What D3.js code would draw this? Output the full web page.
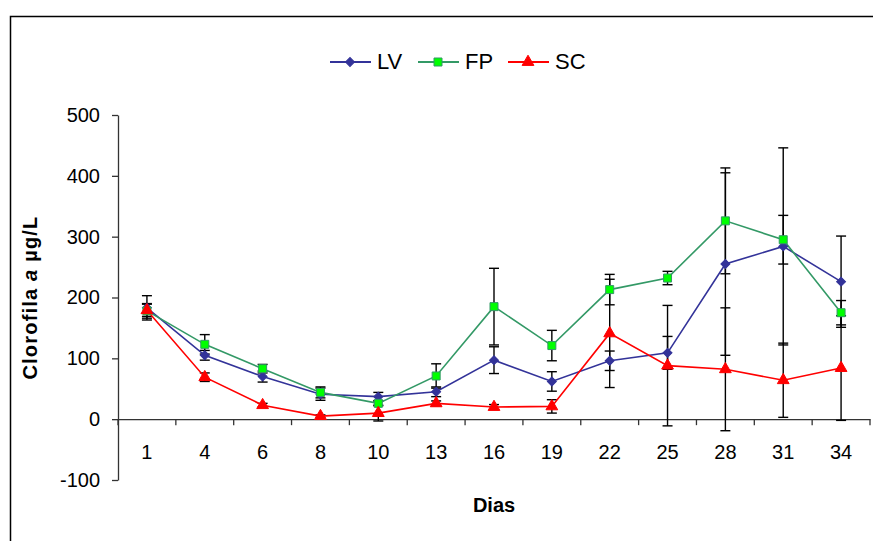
<!DOCTYPE html>
<html>
<head>
<meta charset="utf-8">
<script src="https://cdn.jsdelivr.net/npm/d3@7"></script>
<style>
  body { margin: 0; background: #fff; }
  text { font-family: Arial, "Liberation Sans", sans-serif; }
</style>
</head>
<body>
<script>
// days on the x axis
const days = ["1", "4", "6", "8", "10", "13", "16", "19", "22", "25", "28", "31", "34"];
const yTicks = [-100, 0, 100, 200, 300, 400, 500];

// means
const lv = [183, 105, 70, 41, 37, 45, 97, 62, 96, 109, 255, 284, 226];
const fp = [178, 123, 83, 44, 26, 71, 185, 121, 213, 232, 326, 295, 175];
const sc = [179, 69, 23, 5, 10, 26, 20, 21, 141, 88, 82, 64, 84];

// +/- error (std dev)
const lvErr = [20, 8, 9, 10, 7, 8, 22, 16, 16, 27, 150, 162, 75];
const fpErr = [12, 16, 7, 9, 4, 20, 63, 25, 25, 11, 87, 40, 20];
const scErr = [10, 7, 3, 2, 13, 4, 4, 11, 89, 99, 101, 61, 86];

const W = 873, H = 541;

const series = [
  { name: "LV", values: lv, err: lvErr, line: "#333399", fill: "#333399", stroke: "#333399", shape: d3.symbolSquare, size: 40, rot: 45 },
  { name: "FP", values: fp, err: fpErr, line: "#339966", fill: "#00ff00", stroke: "#339966", shape: d3.symbolSquare, size: 64, rot: 0 },
  { name: "SC", values: sc, err: scErr, line: "#ff0000", fill: "#ff0000", stroke: "#ff0000", shape: d3.symbolTriangle, size: 60, rot: 0 }
];

const svg = d3.select("body").append("svg")
  .attr("width", W)
  .attr("height", H);

// outer frame
svg.append("rect")
  .attr("x", 10.5).attr("y", 16.5)
  .attr("width", 900).attr("height", 600)
  .attr("fill", "none")
  .attr("stroke", "#000")
  .attr("stroke-width", 1.5);

const x = d3.scaleBand().domain(days).range([118, 870]);
const y = d3.scaleLinear().domain([-100, 500]).range([480, 115]);
const cx = d => x(d) + x.bandwidth() / 2;

// y axis
const yAxis = svg.append("g")
  .attr("transform", "translate(118,0)")
  .call(d3.axisLeft(y).tickValues(yTicks).tickFormat(d => String(d))
    .tickSize(6).tickSizeOuter(0).tickPadding(12));
yAxis.select(".domain").attr("stroke", "#333").attr("stroke-width", 1.3);
yAxis.selectAll(".tick line").attr("stroke", "#333").attr("stroke-width", 1.3);
yAxis.selectAll("text").attr("font-size", "20px").attr("fill", "#000")
  .style("font-family", "Arial, 'Liberation Sans', sans-serif");

// x axis at zero, ticks between categories
const xAxis = svg.append("g")
  .attr("transform", `translate(0,${y(0)})`)
  .call(d3.axisBottom(x).tickSize(0).tickPadding(26).tickSizeOuter(0));
xAxis.select(".domain").attr("stroke", "#333").attr("stroke-width", 1.3);
xAxis.selectAll("text").attr("font-size", "20px").attr("fill", "#000")
  .style("font-family", "Arial, 'Liberation Sans', sans-serif");
xAxis.selectAll(".sep")
  .data(days.map(d => x(d)).concat([x.range()[1]]))
  .enter().append("line")
  .attr("class", "sep")
  .attr("x1", d => d).attr("x2", d => d)
  .attr("y1", 0).attr("y2", 6)
  .attr("stroke", "#333").attr("stroke-width", 1.3);

// error bars
series.forEach(s => {
  const g = svg.append("g");
  s.values.forEach((v, i) => {
    const px = cx(days[i]);
    const top = y(v + s.err[i]), bot = y(v - s.err[i]);
    g.append("line").attr("x1", px).attr("x2", px).attr("y1", top).attr("y2", bot)
      .attr("stroke", "#000").attr("stroke-width", 1.4);
    [top, bot].forEach(yy => {
      g.append("line").attr("x1", px - 5).attr("x2", px + 5).attr("y1", yy).attr("y2", yy)
        .attr("stroke", "#000").attr("stroke-width", 1.4);
    });
  });
});

// lines
const line = d3.line().x((d, i) => cx(days[i])).y(d => y(d));
series.forEach(s => {
  svg.append("path")
    .datum(s.values)
    .attr("d", line)
    .attr("fill", "none")
    .attr("stroke", s.line)
    .attr("stroke-width", 1.6);
});

// markers
series.forEach(s => {
  const sym = d3.symbol().type(s.shape).size(s.size);
  svg.append("g").selectAll("path")
    .data(s.values)
    .enter().append("path")
    .attr("d", sym)
    .attr("transform", (d, i) => `translate(${cx(days[i])},${y(d)}) rotate(${s.rot})`)
    .attr("fill", s.fill)
    .attr("stroke", s.stroke)
    .attr("stroke-width", 1);
});

// legend
const legendX = [330, 418, 508];
const legendY = 62;
series.forEach((s, i) => {
  const lg = svg.append("g").attr("transform", `translate(${legendX[i]},${legendY})`);
  lg.append("line").attr("x1", 0).attr("x2", 41).attr("y1", 0).attr("y2", 0)
    .attr("stroke", s.line).attr("stroke-width", 2);
  lg.append("path")
    .attr("d", d3.symbol().type(s.shape).size(s.size)())
    .attr("transform", `translate(20,0) rotate(${s.rot})`)
    .attr("fill", s.fill).attr("stroke", s.stroke).attr("stroke-width", 1);
  lg.append("text")
    .attr("x", 47).attr("y", 7)
    .attr("font-size", "22px")
    .text(s.name);
});

// axis titles
svg.append("text")
  .attr("x", (x.range()[0] + x.range()[1]) / 2)
  .attr("y", 512)
  .attr("text-anchor", "middle")
  .attr("font-size", "20px")
  .attr("font-weight", "bold")
  .text("Dias");

const yt = svg.append("text")
  .attr("transform", `translate(37,${(y(-100) + y(500)) / 2}) rotate(-90)`)
  .attr("text-anchor", "middle")
  .attr("font-size", "20px")
  .attr("font-weight", "bold")
  .attr("letter-spacing", "1.2px");
yt.append("tspan").text("Clorofila ");
yt.append("tspan").attr("font-style", "italic").text("a");
yt.append("tspan").text(" µg/L");
</script>
</body>
</html>
